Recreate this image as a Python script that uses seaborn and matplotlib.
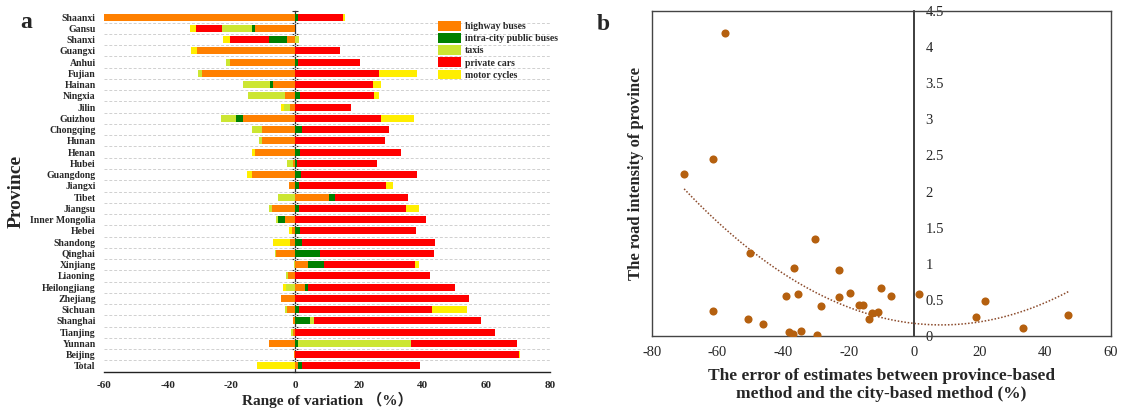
import numpy as np
import pandas as pd
import matplotlib
matplotlib.use("Agg")
import matplotlib.pyplot as plt
import seaborn as sns
from matplotlib.patches import Patch
from matplotlib.ticker import FormatStrFormatter

# ---------------- data: panel a ----------------
provinces = ["Shaanxi", "Gansu", "Shanxi", "Guangxi", "Anhui", "Fujian", "Hainan", "Ningxia",
             "Jilin", "Guizhou", "Chongqing", "Hunan", "Henan", "Hubei", "Guangdong", "Jiangxi",
             "Tibet", "Jiangsu", "Inner Mongolia", "Hebei", "Shandong", "Qinghai", "Xinjiang",
             "Liaoning", "Heilongjiang", "Zhejiang", "Sichuan", "Shanghai", "Tianjing", "Yunnan",
             "Beijing", "Total"]
highway_buses = [-60.0, -12.6, -2.4, -30.8, -20.4, -29.3, -7.1, -3.2, -1.7, -16.5, -10.4, -10.3,
                 -12.6, -0.7, -13.6, -2.0, 10.6, -7.4, -3.2, -1.1, -1.7, -5.9, 3.9, -2.2, 3.0,
                 -4.5, -2.4, -0.7, -0.7, -8.3, -0.5, 0.8]
intra_city_buses = [0.9, -0.8, -5.8, 0.0, 1.0, 0.0, -0.7, 1.5, 0.0, -2.2, 2.0, 0.0, 1.5, 0.7, 1.8,
                    1.3, 1.8, 1.2, -2.1, 1.6, 2.0, 7.7, 5.2, 0.0, 1.0, 0.0, 1.2, 4.6, 0.0, 1.0,
                    0.0, 1.4]
taxis = [0.0, -9.5, 1.2, 0.0, -1.4, -1.3, -8.6, -11.6, -1.8, -4.6, -3.0, -0.9, 0.0, -2.0, 0.0, 0.0,
         -5.3, -0.8, -0.8, 0.0, 0.0, -0.5, -0.4, -0.8, -3.0, 0.0, -0.8, 1.4, -0.6, 35.3, 0.0, 0.0]
private_cars = [14.2, -8.1, -12.1, 14.0, 19.5, 26.4, 24.5, 23.1, 17.6, 26.9, 27.4, 28.3, 31.8, 25.1,
                36.6, 27.2, 23.1, 33.5, 41.0, 36.2, 41.8, 35.8, 28.5, 42.3, 46.1, 54.7, 41.9,
                52.4, 62.8, 33.2, 70.4, 37.1]
motor_cycles = [0.6, -1.9, -2.4, -1.8, 0.0, 11.7, 2.3, 1.6, -0.8, 10.5, 0.0, 0.0, -0.9, 0.0, -1.6,
                2.3, 0.0, 4.3, 0.0, -0.9, -5.2, 0.0, 1.4, 0.0, -0.7, 0.0, 11.0, 0.0, 0.0, 0.0,
                0.3, -11.9]
series_names = ["highway buses", "intra-city public buses", "taxis", "private cars", "motor cycles"]
series_colors = ["#FF8000", "#008000", "#CCE632", "#FF0000", "#FFEE00"]

# ---------------- data: panel b ----------------
error_pct = [-57.6, -61.3, -70.2, -30.4, -50.1, -36.7, -23.1, -19.5, -10.2, -7.2, 1.5, -39.1,
             -35.6, -22.9, -28.6, -16.8, -15.7, -13.0, -11.1, -13.7, -61.5, -50.7, -46.0, -38.3,
             -37.0, -34.7, -29.8, 18.8, 21.6, 33.2, 47.0]
road_intensity = [4.19, 2.45, 2.24, 1.35, 1.15, 0.94, 0.92, 0.60, 0.66, 0.55, 0.58, 0.56, 0.58,
                  0.54, 0.42, 0.43, 0.43, 0.32, 0.33, 0.24, 0.34, 0.24, 0.17, 0.05, 0.03, 0.07,
                  0.01, 0.27, 0.48, 0.11, 0.29]

# ---------------- style ----------------
sns.set_theme(style="white")
plt.rcParams["font.family"] = ["Liberation Serif", "Noto Sans CJK SC"]
plt.rcParams["axes.unicode_minus"] = False

W, H = 1134, 412
fig = plt.figure(figsize=(W / 100, H / 100), dpi=100)

# ================= panel a =================
axa = fig.add_axes([104 / W, (H - 371.6) / H, 446 / W, 360.2 / H])
data = np.array([highway_buses, intra_city_buses, taxis, private_cars, motor_cycles])
pos_cum = np.cumsum(np.clip(data, 0, None), axis=0)
neg_cum = np.cumsum(np.clip(data, None, 0), axis=0)
df = pd.DataFrame({"province": provinces})
for k in range(4, -1, -1):
    for cum in (pos_cum, neg_cum):
        df["v"] = cum[k]
        sns.barplot(data=df, x="v", y="province", orient="h", color=series_colors[k],
                    saturation=1, width=0.62, linewidth=0, ax=axa, errorbar=None)

n = len(provinces)
axa.set_xlim(-60, 80)
axa.set_ylim(n - 0.5, -0.5)
axa.set_xticks(np.arange(-60, 81, 20))
axa.set_yticks(np.arange(n - 1) + 0.5, minor=True)
axa.grid(which="minor", axis="y", ls=(0, (3, 2)), color="#d0d0d0", lw=0.7)
axa.grid(which="major", visible=False)
axa.set_axisbelow(True)
for s in ("left", "top", "right"):
    axa.spines[s].set_visible(False)
axa.spines["bottom"].set_color("#222222")
axa.spines["bottom"].set_linewidth(1.0)
axa.tick_params(axis="y", which="both", length=0, pad=6, labelsize=7)
axa.tick_params(axis="x", length=4, width=1, direction="out", color="#222222", labelsize=8, pad=3)
for lab in axa.get_yticklabels() + axa.get_xticklabels():
    lab.set_fontweight("bold")
axa.set_ylabel("Province", fontsize=14, fontweight="bold", labelpad=4)
axa.set_xlabel("Range of variation （%）", fontsize=11, fontweight="bold", labelpad=1)

sec = axa.secondary_yaxis(60 / 140)
sec.set_yticks(np.arange(-0.5, n, 1))
sec.set_yticklabels([])
sec.tick_params(axis="y", direction="inout", length=4, width=0.8, color="#333333")
sec.spines["left"].set_color("#333333")
sec.spines["left"].set_linewidth(0.9)

handles = [Patch(facecolor=c, edgecolor="none", label=l) for c, l in zip(series_colors, series_names)]
axa.legend(handles=handles, loc="upper left", bbox_to_anchor=(0.74, 0.985), frameon=False,
           prop={"weight": "bold", "size": 7}, handlelength=2.4, handleheight=1.2,
           labelspacing=0.2, handletextpad=0.4, borderaxespad=0)

fig.text(20 / W, 1 - 22 / H, "a", fontsize=17, fontweight="bold", va="center")

# ================= panel b =================
axb = fig.add_axes([652 / W, (H - 336) / H, 459 / W, 325 / H])
brown = "#B5600F"
sns.regplot(x=error_pct, y=road_intensity, order=2, ci=None, scatter=False, ax=axb,
            line_kws=dict(ls=(0, (1, 1.2)), lw=1.1, color="#8B4A2B"))
sns.scatterplot(x=error_pct, y=road_intensity, color=brown, s=34, linewidth=0, ax=axb, zorder=3)
axb.set_xlim(-80, 60)
axb.set_ylim(0, 4.5)
axb.set_xticks(np.arange(-80, 61, 20))
axb.set_yticks([])
axb.tick_params(axis="x", length=0, pad=7, labelsize=10.5)
for s in axb.spines.values():
    s.set_visible(True)
    s.set_color("#444444")
    s.set_linewidth(1.0)
axb.grid(False)
secb = axb.secondary_yaxis(80 / 140)
secb.set_yticks(np.arange(0, 4.51, 0.5))
secb.yaxis.set_major_formatter(FormatStrFormatter("%g"))
secb.tick_params(axis="y", length=0, pad=8, labelsize=10.5)
secb.spines["left"].set_color("#444444")
secb.spines["left"].set_linewidth(1.0)
axb.set_ylabel("The road intensity of province", fontsize=12, fontweight="bold", labelpad=6)
axb.set_xlabel("The error of estimates between province-based\nmethod and the city-based method (%)",
               fontsize=12.5, fontweight="bold", labelpad=7, linespacing=1.15)

fig.text(597 / W, 1 - 24 / H, "b", fontsize=17, fontweight="bold", va="center")

fig.savefig("out.png", dpi=100)
